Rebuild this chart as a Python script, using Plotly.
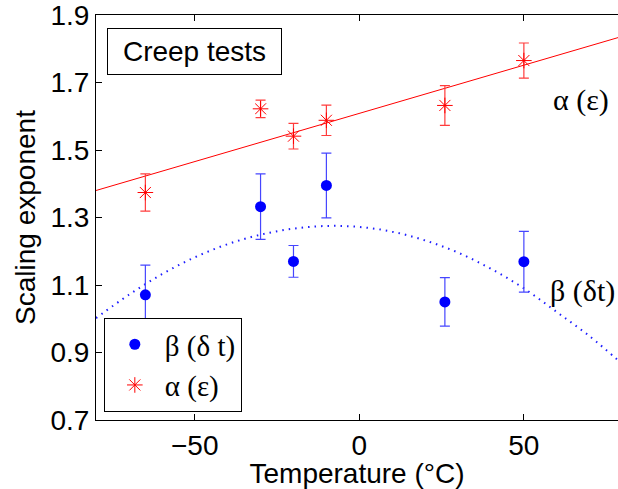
import plotly.graph_objects as go

# ---- data ----
temps = [-65, -30, -20, -10, 26, 50]
alpha_vals = [1.374, 1.622, 1.541, 1.588, 1.632, 1.765]
alpha_err = [0.055, 0.026, 0.038, 0.045, 0.059, 0.052]
beta_vals = [1.071, 1.332, 1.170, 1.395, 1.050, 1.169]
beta_err = [0.088, 0.097, 0.047, 0.096, 0.072, 0.090]

fit_x = [-80, 80]
fit_alpha = [1.380, 1.837]

curve_x = [-80, -70, -60, -50, -40, -30, -20, -10, 0, 10, 20, 30, 40, 50, 60, 70, 80]
curve_beta = [1.002, 1.071, 1.132, 1.182, 1.221, 1.249, 1.267, 1.275, 1.272,
              1.258, 1.232, 1.196, 1.148, 1.090, 1.020, 0.948, 0.865]

x_ticks = [-50, 0, 50]
y_ticks = [0.7, 0.9, 1.1, 1.3, 1.5, 1.7, 1.9]

SANS = "Liberation Sans, Arial, sans-serif"
SERIF = "Liberation Serif, Times New Roman, serif"

fig = go.Figure()

fig.add_trace(go.Scatter(
    x=fit_x, y=fit_alpha, mode="lines",
    line=dict(color="red", width=1), showlegend=False, hoverinfo="skip"))

fig.add_trace(go.Scatter(
    x=curve_x, y=curve_beta, mode="lines", line_shape="spline",
    line=dict(color="rgb(30,30,255)", width=2, dash="1.5px,5px"),
    showlegend=False, hoverinfo="skip"))

fig.add_trace(go.Scatter(
    x=temps, y=beta_vals, mode="markers", name="β (δ t)",
    marker=dict(symbol="circle", size=11, color="blue"),
    error_y=dict(type="data", array=beta_err, visible=True,
                 color="rgb(70,70,255)", thickness=1.2, width=5)))

fig.add_trace(go.Scatter(
    x=temps, y=alpha_vals, mode="markers", name="α (ε)",
    marker=dict(symbol="asterisk-open", size=13, color="red",
                line=dict(color="red", width=1)),
    error_y=dict(type="data", array=alpha_err, visible=True,
                 color="rgb(255,60,60)", thickness=1.2, width=5)))

fig.add_annotation(
    x=-50, y=1.793, xref="x", yref="y", text="Creep tests", showarrow=False,
    font=dict(family=SANS, size=28, color="black"),
    width=165, height=37,
    bordercolor="black", borderwidth=1, borderpad=4, bgcolor="white")

fig.add_annotation(
    x=67.3, y=1.649, xref="x", yref="y", text="α (ε)", showarrow=False,
    font=dict(family=SERIF, size=30, color="black"))

fig.add_annotation(
    x=67.8, y=1.081, xref="x", yref="y", text="β (δt)", showarrow=False,
    font=dict(family=SERIF, size=30, color="black"))

fig.update_layout(
    width=618, height=489,
    margin=dict(l=96, r=0, t=15, b=69),
    paper_bgcolor="white", plot_bgcolor="white",
    font=dict(family=SANS, size=28, color="black"),
    showlegend=True,
    legend=dict(
        x=0.015, y=0.02, xanchor="left", yanchor="bottom",
        bgcolor="white", bordercolor="black", borderwidth=1,
        font=dict(family=SERIF, size=29, color="black"),
        itemwidth=50),
    xaxis=dict(
        range=[-80, 78.6], tickvals=x_ticks, ticks="inside", ticklen=6,
        tickcolor="black", showline=True, linecolor="black", linewidth=1,
        mirror="ticks", showgrid=False, zeroline=False,
        ticklabeloverflow="allow",
        title=dict(text="Temperature (°C)", font=dict(family=SANS, size=28), standoff=2),
        tickfont=dict(family=SANS, size=28)),
    yaxis=dict(
        range=[0.7, 1.9], tickvals=y_ticks, ticktext=[f"{v:.1f}" for v in y_ticks],
        ticks="inside", ticklen=6,
        tickcolor="black", showline=True, linecolor="black", linewidth=1,
        mirror=False, showgrid=False, zeroline=False,
        ticklabeloverflow="allow",
        title=dict(text="Scaling exponent", font=dict(family=SANS, size=28), standoff=6),
        tickfont=dict(family=SANS, size=28)),
)

fig.write_html("out.html")
